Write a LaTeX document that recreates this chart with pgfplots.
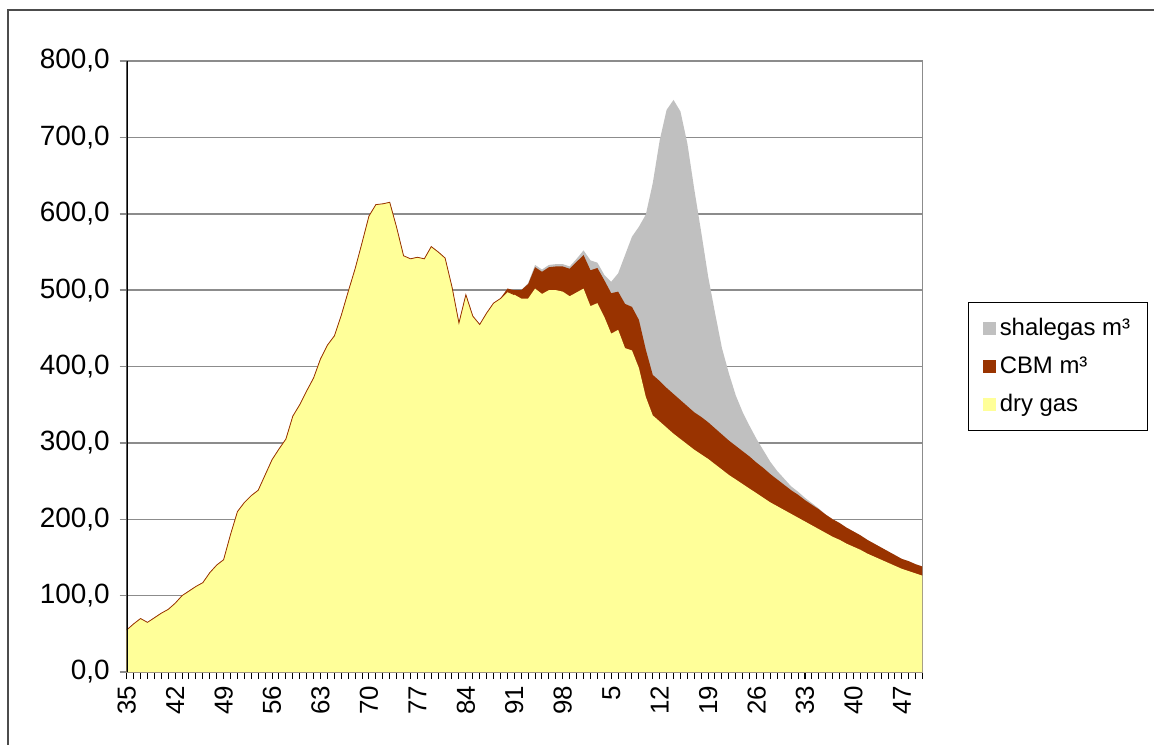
\documentclass[border=0pt]{standalone}
\usepackage{pgfplots}
\pgfplotsset{compat=1.18}
\usepackage{pgfplotstable}
\usepackage{fontspec}
\setmainfont{Liberation Sans}

\definecolor{drygas}{HTML}{FFFF99}
\definecolor{cbm}{HTML}{993300}
\definecolor{shale}{HTML}{C0C0C0}
\definecolor{gridgray}{HTML}{8C8C8C}

% yearly production
\pgfplotstableread{
year dry cbm shale
1935 55 0 0
1936 63 0 0
1937 70 0 0
1938 65 0 0
1939 71 0 0
1940 77 0 0
1941 82 0 0
1942 90 0 0
1943 100 0 0
1944 106 0 0
1945 112 0 0
1946 117 0 0
1947 130 0 0
1948 140 0 0
1949 147 0 0
1950 180 0 0
1951 210 0 0
1952 222 0 0
1953 231 0 0
1954 238 0 0
1955 258 0 0
1956 278 0 0
1957 292 0 0
1958 305 0 0
1959 335 0 0
1960 350 0 0
1961 368 0 0
1962 385 0 0
1963 410 0 0
1964 428 0 0
1965 440 0 0
1966 467 0 0
1967 498 0 0
1968 528 0 0
1969 562 0 0
1970 597 0 0
1971 612 0 0
1972 613 0 0
1973 615 0 0
1974 582 0 0
1975 545 0 0
1976 541 0 0
1977 543 0 0
1978 541 0 0
1979 557 0 0
1980 550 0 0
1981 542 0 0
1982 504 0 0
1983 457 0 0
1984 494 0 0
1985 466 0 0
1986 455 0 0
1987 470 0 0
1988 483 0 0
1989 489 0 0
1990 498 4 0
1991 494 6 0
1992 489 11 0
1993 489 19 1
1994 502 28 3
1995 495 29 3
1996 500 30 3
1997 500 31 3
1998 498 33 3
1999 492 36 3
2000 497 40 4
2001 502 44 6
2002 479 47 13
2003 483 46 7
2004 465 48 7
2005 443 53 15
2006 448 50 24
2007 424 58 64
2008 421 57 92
2009 398 63 122
2010 360 62 177
2011 336 53 251
2012 328 53 315
2013 320 52 364
2014 312 52 385
2015 305 51 378
2016 298 50 344
2017 291 49 292
2018 285 49 242
2019 279 48 191
2020 272 47 151
2021 265 46 113
2022 258 45 88
2023 252 44 66
2024 246 43 51
2025 240 42 40
2026 234 40 31
2027 228 39 23
2028 222 37 16
2029 217 35 11
2030 212 33 8
2031 207 31 5
2032 202 30 4
2033 197 28 3
2034 192 27 2
2035 187 26 1
2036 182 24 0
2037 177 23 0
2038 173 22 0
2039 168 21 0
2040 164 20 0
2041 160 19 0
2042 155 18 0
2043 151 17 0
2044 147 16 0
2045 143 15 0
2046 139 14 0
2047 135 13 0
2048 132 13 0
2049 129 12 0
2050 126 12 0
}\gasdata

\begin{document}
\begin{tikzpicture}
\useasboundingbox (-63.35bp,-36.5bp) rectangle (513.65bp,336bp);
\draw[black!70, line width=1bp] (-59.35bp,-40bp) -- (-59.35bp,331bp) -- (520bp,331bp);
\begin{axis}[
  scale only axis,
  width=398bp, height=305.5bp,
  xmin=1935, xmax=2050,
  ymin=0, ymax=800,
  axis line style={gridgray, line width=0.75bp},
  ymajorgrids=true,
  major grid style={gridgray, line width=0.75bp},
  tick align=outside,
  tick pos=left,
  major tick length=3.5bp,
  minor tick length=3.5bp,
  xtick={1935,1942,...,2047},
  xticklabels={35,42,49,56,63,70,77,84,91,98,5,12,19,26,33,40,47},
  minor xtick={1935,...,2050},
  xtick style={black, line width=0.5bp},
  ytick={0,100,...,800},
  yticklabels={{0,0},{100,0},{200,0},{300,0},{400,0},{500,0},{600,0},{700,0},{800,0}},
  ytick style={gridgray, line width=0.75bp},
  xticklabel style={rotate=90, anchor=east, font=\fontsize{13}{15}\selectfont},
  yticklabel style={font=\fontsize{14}{16}\selectfont, xshift=-1.5bp},
  legend cell align=left,
  legend image code/.code={\fill[#1, draw=none] (0bp,-3.3bp) rectangle (6.6bp,3.3bp);},
  legend style={at={(1.057,0.6056)}, anchor=north west, draw=black,
    line width=0.5bp, font=\fontsize{12}{14}\selectfont,
    row sep=5bp, inner xsep=7bp, inner ysep=6bp},
]
\addplot[fill=shale, draw=none]
  table[x=year, y expr=\thisrow{dry}+\thisrow{cbm}+\thisrow{shale}] {\gasdata} \closedcycle;
\addplot[fill=cbm, draw=none]
  table[x=year, y expr=\thisrow{dry}+\thisrow{cbm}] {\gasdata} \closedcycle;
\addplot[fill=drygas, draw=none]
  table[x=year, y=dry] {\gasdata} \closedcycle;
\addplot[cbm, line width=0.4bp, forget plot, restrict x to domain=1935:1991]
  table[x=year, y=dry] {\gasdata};
\legend{shalegas m³, CBM m³, dry gas}
\draw[black, line width=1bp] (axis cs:1935,0) -- (axis cs:1935,800);
\draw[gridgray, line width=0.75bp] (axis cs:2050,0) -- (axis cs:2050,800);
\end{axis}
\end{tikzpicture}
\end{document}
